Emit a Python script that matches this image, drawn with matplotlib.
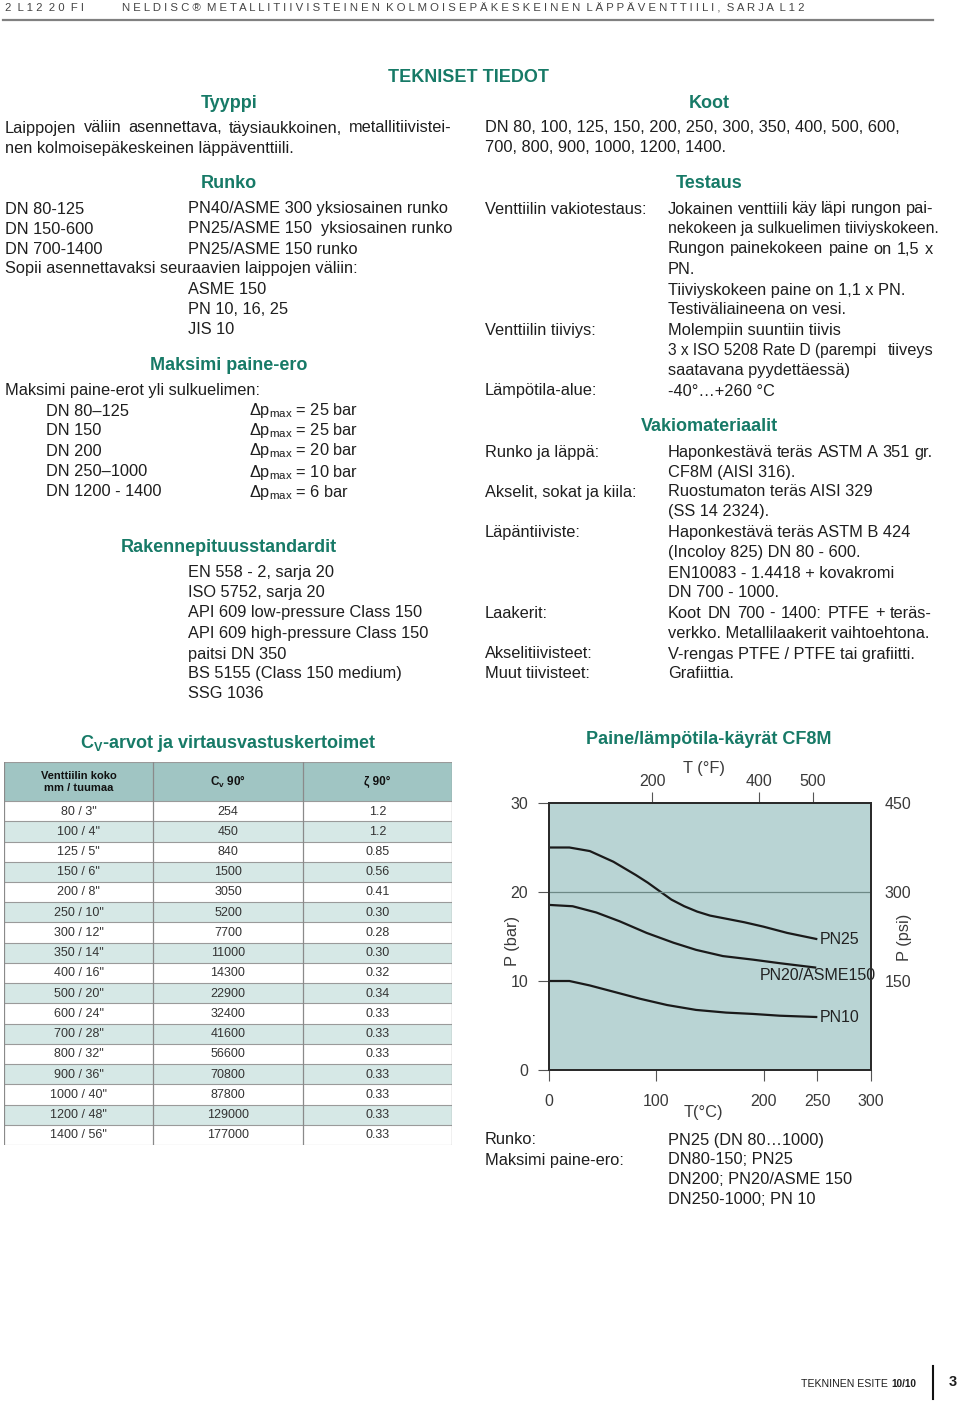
import matplotlib
matplotlib.use('Agg')
import matplotlib.pyplot as plt
from matplotlib.patches import Rectangle

plt.rcParams['font.family'] = ['Liberation Sans', 'DejaVu Sans']
plt.rcParams['mathtext.fontset'] = 'custom'
plt.rcParams['mathtext.rm'] = 'Liberation Sans'
plt.rcParams['mathtext.bf'] = 'Liberation Sans:bold'
plt.rcParams['mathtext.it'] = 'Liberation Sans:italic'

# --- table data (Cv values and resistance coefficients)
sizes = ['80 / 3"', '100 / 4"', '125 / 5"', '150 / 6"', '200 / 8"', '250 / 10"',
         '300 / 12"', '350 / 14"', '400 / 16"', '500 / 20"', '600 / 24"',
         '700 / 28"', '800 / 32"', '900 / 36"', '1000 / 40"', '1200 / 48"', '1400 / 56"']
cv90 = [254, 450, 840, 1500, 3050, 5200, 7700, 11000, 14300, 22900, 32400,
        41600, 56600, 70800, 87800, 129000, 177000]
zeta90 = ['1.2', '1.2', '0.85', '0.56', '0.41', '0.30', '0.28', '0.30', '0.32',
          '0.34', '0.33', '0.33', '0.33', '0.33', '0.33', '0.33', '0.33']

# --- pressure/temperature curves
t_pn25 = [0, 19, 38, 60, 81, 92, 103, 114, 126, 138, 150, 165, 182, 200, 222, 250]
p_pn25 = [25.0, 25.0, 24.6, 23.4, 21.9, 21.05, 20.1, 19.15, 18.4, 17.8, 17.35, 17.0, 16.6, 16.1, 15.4, 14.7]
t_pn20 = [0, 22, 44, 66, 91, 116, 137, 162, 190, 215, 249]
p_pn20 = [18.55, 18.4, 17.7, 16.7, 15.4, 14.3, 13.5, 12.8, 12.4, 12.0, 11.5]
t_pn10 = [0, 19, 38, 60, 85, 110, 137, 165, 190, 215, 250]
p_pn10 = [10.0, 10.0, 9.5, 8.8, 8.0, 7.3, 6.75, 6.45, 6.3, 6.1, 5.95]
curve_names = ['PN25', 'PN20/ASME150', 'PN10']
c_ticks = [0, 100, 200, 250, 300]
bar_ticks = [0, 10, 20, 30]
f_ticks = [200, 400, 500]
psi_ticks = [150, 300, 450]

W, H = 960, 1401
GREEN = '#177a67'
INK = '#1e1e1e'
BODY = 11.8

fig = plt.figure(figsize=(W / 100, H / 100), dpi=100)
renderer = fig.canvas.get_renderer()


def txt(x, y, s, size=BODY, color=INK, **kw):
    return fig.text(x / W, 1 - y / H, s, fontsize=size, color=color, va='center', **kw)


def head(x, y, s, size=13):
    return txt(x, y, s, size=size, color=GREEN, ha='center', fontweight='bold')


def justify(x0, x1, y, s, size=BODY):
    words = s.split()
    widths = []
    for w in words:
        t = fig.text(0, 0, w, fontsize=size)
        widths.append(t.get_window_extent(renderer).width)
        t.remove()
    gap = (x1 - x0 - sum(widths)) / (len(words) - 1)
    x = x0
    for w, wd in zip(words, widths):
        txt(x, y, w, size=size)
        x += wd + gap


def spaced(s):
    return '  '.join([' '.join(w) for w in s.split()])


# --- page header / footer
txt(5, 8, spaced('2 L12 20 FI'), size=8.2, color='#444')
txt(122, 8, spaced('NELDISC® METALLITIIVISTEINEN KOLMOISEPÄKESKEINEN LÄPPÄVENTTIILI, SARJA L12'),
    size=8.2, color='#444')
fig.add_artist(plt.Line2D([3 / W, 933 / W], [1 - 20 / H, 1 - 20 / H], color='#808080', lw=1.6))
txt(801, 1384, 'TEKNINEN ESITE', size=7.6)
txt(891, 1384, '10/10', size=7.2, fontweight='bold')
fig.add_artist(plt.Line2D([933 / W, 933 / W], [1 - 1366 / H, 1 - 1399 / H], color='#111', lw=1.5))
txt(949, 1382, '3', size=10.5, fontweight='bold')

head(469, 78, 'TEKNISET TIEDOT')

# --- left column
head(229, 103, 'Tyyppi')
justify(5, 452, 128, 'Laippojen väliin asennettava, täysiaukkoinen, metallitiivistei-')
txt(5, 148, 'nen kolmoisepäkeskeinen läppäventtiili.')
head(229, 184, 'Runko')
for y, a, b in [(209, 'DN 80-125', 'PN40/ASME 300 yksiosainen runko'),
                (229, 'DN 150-600', 'PN25/ASME 150  yksiosainen runko'),
                (249, 'DN 700-1400', 'PN25/ASME 150 runko')]:
    txt(5, y, a)
    txt(188, y, b)
txt(5, 269, 'Sopii asennettavaksi seuraavien laippojen väliin:')
for y, s in [(290, 'ASME 150'), (310, 'PN 10, 16, 25'), (330, 'JIS 10')]:
    txt(188, y, s)
head(229, 366, 'Maksimi paine-ero')
txt(5, 391, 'Maksimi paine-erot yli sulkuelimen:')
for y, a, b in [(411, 'DN 80–125', '25'), (431, 'DN 150', '25'), (451, 'DN 200', '20'),
                (472, 'DN 250–1000', '10'), (492, 'DN 1200 - 1400', '6')]:
    txt(46, y, a)
    txt(249, y, 'Δp$_{\\mathrm{max}}$ = ' + b + ' bar')
head(229, 548, 'Rakennepituusstandardit')
for y, s in [(573, 'EN 558 - 2, sarja 20'), (593, 'ISO 5752, sarja 20'),
             (613, 'API 609 low-pressure Class 150'), (633, 'API 609 high-pressure Class 150'),
             (654, 'paitsi DN 350'), (674, 'BS 5155 (Class 150 medium)'), (694, 'SSG 1036')]:
    txt(188, y, s)

# --- right column
head(709, 103, 'Koot')
txt(485, 128, 'DN 80, 100, 125, 150, 200, 250, 300, 350, 400, 500, 600,')
txt(485, 148, '700, 800, 900, 1000, 1200, 1400.')
head(709, 184, 'Testaus')
txt(485, 209, 'Venttiilin vakiotestaus:')
justify(668, 933, 209, 'Jokainen venttiili käy läpi rungon pai-')
txt(668, 229, 'nekokeen ja sulkuelimen tiiviyskokeen.', size=11.3)
justify(668, 933, 249, 'Rungon painekokeen paine on 1,5 x')
txt(668, 269, 'PN.')
txt(668, 290, 'Tiiviyskokeen paine on 1,1 x PN.')
txt(668, 310, 'Testiväliaineena on vesi.')
txt(485, 330, 'Venttiilin tiiviys:')
txt(668, 330, 'Molempiin suuntiin tiivis')
txt(668, 351, '3 x ISO 5208 Rate D (parempi', size=11.2)
txt(933, 351, 'tiiveys', ha='right')
txt(668, 371, 'saatavana pyydettäessä)')
txt(485, 391, 'Lämpötila-alue:')
txt(668, 391, '-40°…+260 °C')
head(709, 426, 'Vakiomateriaalit')
txt(485, 452, 'Runko ja läppä:')
justify(668, 932, 452, 'Haponkestävä teräs ASTM A 351 gr.')
txt(668, 472, 'CF8M (AISI 316).')
txt(485, 492, 'Akselit, sokat ja kiila:')
txt(668, 492, 'Ruostumaton teräs AISI 329')
txt(668, 512, '(SS 14 2324).')
txt(485, 532, 'Läpäntiiviste:')
txt(668, 532, 'Haponkestävä teräs ASTM B 424')
txt(668, 552, '(Incoloy 825) DN 80 - 600.')
txt(668, 573, 'EN10083 - 1.4418 + kovakromi')
txt(668, 593, 'DN 700 - 1000.')
txt(485, 613, 'Laakerit:')
justify(668, 932, 613, 'Koot DN 700 - 1400: PTFE + teräs-')
txt(668, 633, 'verkko. Metallilaakerit vaihtoehtona.')
txt(485, 654, 'Akselitiivisteet:')
txt(668, 654, 'V-rengas PTFE / PTFE tai grafiitti.')
txt(485, 674, 'Muut tiivisteet:')
txt(668, 674, 'Grafiittia.')

# --- Cv table
head(228, 743, r'C$_{\mathbf{V}}$-arvot ja virtausvastuskertoimet')
HEAD = 1.93
n = len(sizes)
tab = fig.add_axes([4 / W, 1 - 1145 / H, 448 / W, (1145 - 762) / H])
tab.set_xlim(0, 3)
tab.set_ylim(n + HEAD, 0)
tab.axis('off')
tab.add_patch(Rectangle((0, 0), 3, HEAD, fc='#a0c5c3', ec='none'))
for i in range(n):
    y0 = HEAD + i
    if i % 2 == 1:
        tab.add_patch(Rectangle((0, y0), 3, 1, fc='#d6e8e6', ec='none'))
    for j, v in enumerate([sizes[i], f'{cv90[i]}', zeta90[i]]):
        tab.text(j + 0.5, y0 + 0.52, v, ha='center', va='center', fontsize=9, color='#333')
for k in range(n + 1):
    tab.plot([0, 3], [HEAD + k, HEAD + k], color='#9a9a9a', lw=0.8)
tab.plot([0, 3], [0, 0], color='#9a9a9a', lw=0.8)
for xv in range(4):
    tab.plot([xv, xv], [0, n + HEAD], color='#8a8a8a', lw=0.9)
tab.text(0.5, HEAD / 2, 'Venttiilin koko\nmm / tuumaa', ha='center', va='center',
         fontsize=8, fontweight='bold', color='#111', linespacing=1.25)
tab.text(1.5, HEAD / 2, r'C$_{\mathbf{v}}$ 90°', ha='center', va='center',
         fontsize=8.5, fontweight='bold', color='#111')
tab.text(2.5, HEAD / 2, 'ζ 90°', ha='center', va='center',
         fontsize=8.5, fontweight='bold', color='#111')

# --- pressure / temperature chart
head(709, 740, 'Paine/lämpötila-käyrät CF8M')
ax = fig.add_axes([549 / W, 1 - 1070 / H, 322 / W, 267 / H])
ax.set_facecolor('#b9d4d4')
for t, p in [(t_pn25, p_pn25), (t_pn20, p_pn20), (t_pn10, p_pn10)]:
    ax.plot(t, p, color='#1a1a1a', lw=1.6, solid_capstyle='butt', solid_joinstyle='round')
ax.axhline(20, color='#6d8986', lw=0.9)
ax.set_xlim(0, 300)
ax.set_ylim(0, 30)
ax.set_xticks(c_ticks)
ax.set_yticks(bar_ticks)
ax.tick_params(direction='out', length=8, width=0.8, color='#555',
               labelsize=11.5, labelcolor='#3a3a3a', pad=7)
ax.tick_params(axis='x', pad=9)
ax.text(t_pn25[-1] + 2, p_pn25[-1], curve_names[0], fontsize=11.5, color='#222', va='center')
ax.text(t_pn20[-1] + 1, p_pn20[-1] - 0.85, curve_names[1], fontsize=11.5, color='#222',
        va='center', ha='center')
ax.text(t_pn10[-1] + 2, p_pn10[-1], curve_names[2], fontsize=11.5, color='#222', va='center')

axf = ax.twiny()
axf.set_xlim(7, 609)
axf.set_xticks(f_ticks)
axf.tick_params(direction='out', length=8, width=0.8, color='#555',
                labelsize=11.5, labelcolor='#3a3a3a', pad=2)
axp = ax.twinx()
axp.set_ylim(0, 450)
axp.set_yticks(psi_ticks)
axp.tick_params(length=0, labelsize=11.5, labelcolor='#3a3a3a', pad=10)
for a in (ax, axf, axp):
    for sp in a.spines.values():
        sp.set_color('#2b2b2b')
        sp.set_linewidth(1.3)

txt(704, 768, 'T (°F)', color='#3a3a3a', ha='center')
txt(703, 1112, 'T(°C)', color='#3a3a3a', ha='center')
txt(512, 941, 'P (bar)', color='#3a3a3a', ha='center', rotation=90)
txt(905, 937, 'P (psi)', color='#3a3a3a', ha='center', rotation=90)

txt(485, 1140, 'Runko:')
txt(668, 1140, 'PN25 (DN 80…1000)')
txt(485, 1160, 'Maksimi paine-ero:')
txt(668, 1160, 'DN80-150; PN25')
txt(668, 1180, 'DN200; PN20/ASME 150')
txt(668, 1200, 'DN250-1000; PN 10')

fig.savefig('out.png', dpi=100)
